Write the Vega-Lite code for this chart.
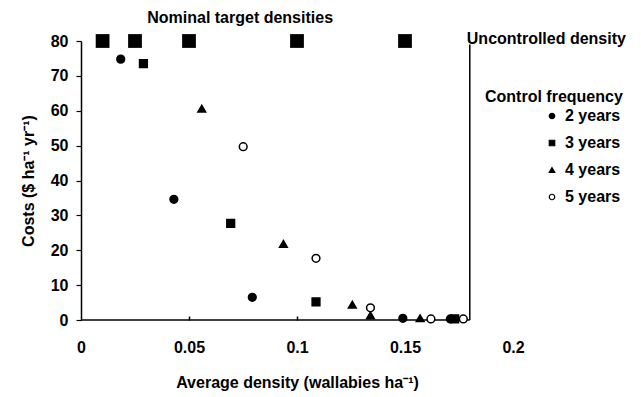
{
  "$schema": "https://vega.github.io/schema/vega-lite/v6.json",
  "width": 432,
  "height": 279,
  "autosize": "none",
  "padding": {"left": 81, "top": 41, "right": 128, "bottom": 77},
  "background": "white",
  "config": {
    "view": {"stroke": null},
    "font": "Liberation Sans",
    "axis": {"grid": false, "labelFont": "Liberation Sans", "titleFont": "Liberation Sans", "labelColor": "black", "titleColor": "black", "domainColor": "black", "tickColor": "black", "labelOverlap": false}
  },
  "title": {
    "text": "Nominal target densities",
    "anchor": "start",
    "dx": 127,
    "offset": 5,
    "font": "Liberation Sans",
    "fontSize": 16,
    "fontWeight": "bold",
    "color": "black"
  },
  "datasets": {
    "pts": [
      {"density": 0.0184, "cost": 74.8, "series": "2 years"},
      {"density": 0.043, "cost": 34.6, "series": "2 years"},
      {"density": 0.0793, "cost": 6.5, "series": "2 years"},
      {"density": 0.149, "cost": 0.5, "series": "2 years"},
      {"density": 0.171, "cost": 0.3, "series": "2 years"},
      {"density": 0.0289, "cost": 73.5, "series": "3 years"},
      {"density": 0.0693, "cost": 27.7, "series": "3 years"},
      {"density": 0.1088, "cost": 5.2, "series": "3 years"},
      {"density": 0.173, "cost": 0.3, "series": "3 years"},
      {"density": 0.0559, "cost": 60.6, "series": "4 years"},
      {"density": 0.0937, "cost": 21.8, "series": "4 years"},
      {"density": 0.1256, "cost": 4.4, "series": "4 years"},
      {"density": 0.134, "cost": 1.3, "series": "4 years"},
      {"density": 0.157, "cost": 0.5, "series": "4 years"},
      {"density": 0.0751, "cost": 49.7, "series": "5 years"},
      {"density": 0.1088, "cost": 17.7, "series": "5 years"},
      {"density": 0.134, "cost": 3.5, "series": "5 years"},
      {"density": 0.162, "cost": 0.3, "series": "5 years"},
      {"density": 0.177, "cost": 0.3, "series": "5 years"}
    ],
    "targets": [
      {"density": 0.01, "cost": 80},
      {"density": 0.025, "cost": 80},
      {"density": 0.05, "cost": 80},
      {"density": 0.1, "cost": 80},
      {"density": 0.15, "cost": 80}
    ],
    "uncontrolled": [
      {"density": 0.18, "cost": 0, "cost2": 79, "top": 80, "label": "Uncontrolled density"}
    ],
    "baseline": [
      {"density": 0, "end": 0.18, "cost": 0}
    ]
  },
  "encoding": {
    "x": {"field": "density", "type": "quantitative", "scale": {"domain": [0, 0.2], "nice": false},
      "axis": {"title": "Average density (wallabies ha⁻¹)", "values": [0, 0.05, 0.1, 0.15, 0.2], "format": "~g", "domain": false, "labelFlush": false, "labelBound": false, "tickSize": -4, "tickWidth": 1.5, "tickOpacity": {"condition": {"test": "datum.value > 0.19 || datum.value < 0.01", "value": 0}, "value": 1}, "labelPadding": 23, "labelFontSize": 16, "labelFontWeight": "bold", "titleFontSize": 16, "titleFontWeight": "bold", "titlePadding": 19}},
    "y": {"field": "cost", "type": "quantitative", "scale": {"domain": [0, 80], "nice": false},
      "axis": {"title": "Costs ($ ha⁻¹ yr⁻¹)", "values": [0, 10, 20, 30, 40, 50, 60, 70, 80], "tickCount": 9, "labelOverlap": false, "labelBound": false, "labelFlush": false, "domainWidth": 1.5, "tickSize": 5, "tickWidth": 1.2, "labelPadding": 8, "labelFontSize": 16, "labelFontWeight": "bold", "titleFontSize": 16, "titleFontWeight": "bold", "titlePadding": 14}}
  },
  "layer": [
    {
      "data": {"name": "baseline"},
      "mark": {"type": "rule", "color": "black", "strokeWidth": 1.5},
      "encoding": {
        "x2": {"field": "end"}
      }
    },
    {
      "data": {"name": "uncontrolled"},
      "mark": {"type": "rule", "color": "black", "strokeWidth": 1.5},
      "encoding": {
        "y2": {"field": "cost2"}
      }
    },
    {
      "data": {"name": "uncontrolled"},
      "mark": {"type": "text", "align": "left", "baseline": "middle", "dx": -3, "dy": -2, "fontSize": 16, "fontWeight": "bold", "font": "Liberation Sans", "color": "black"},
      "encoding": {
        "y": {"field": "top", "type": "quantitative"},
        "text": {"field": "label"}
      }
    },
    {
      "data": {"name": "targets"},
      "mark": {"type": "point", "shape": "square", "filled": true, "color": "black", "size": 190, "opacity": 1},
      "encoding": {}
    },
    {
      "data": {"name": "pts"},
      "mark": {"type": "point", "filled": true, "stroke": "black", "strokeWidth": 1.5, "opacity": 1, "size": 60},
      "encoding": {
        "shape": {"field": "series", "type": "nominal",
          "scale": {"domain": ["2 years", "3 years", "4 years", "5 years"], "range": ["circle", "square", "triangle-up", "circle"]},
          "legend": {"title": "Control frequency", "orient": "none", "legendX": 404, "legendY": 48, "titleFontSize": 16, "titleFontWeight": "bold", "titleFont": "Liberation Sans", "titleColor": "black", "labelFontSize": 16, "labelFontWeight": "bold", "labelFont": "Liberation Sans", "labelColor": "black", "symbolSize": 30, "symbolOffset": 59, "symbolStrokeWidth": 1.2, "rowPadding": 11, "titlePadding": 3, "labelOffset": 5}},
        "fill": {"field": "series", "type": "nominal",
          "scale": {"domain": ["2 years", "3 years", "4 years", "5 years"], "range": ["black", "black", "black", "white"]}}
      }
    }
  ]
}
